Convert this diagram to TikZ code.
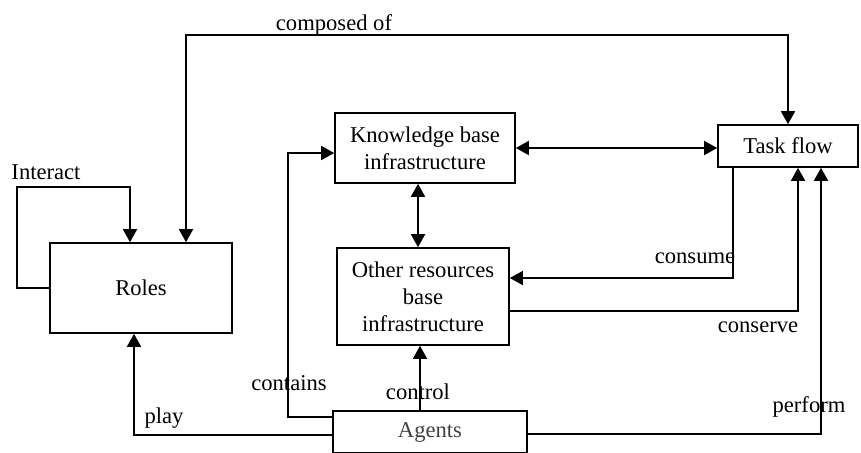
\documentclass[tikz,border=0pt]{standalone}
\usepackage{fontspec}
\setmainfont{Liberation Serif}
\usetikzlibrary{arrows.meta}

\begin{document}
\begin{tikzpicture}[x=0.5pt,y=-0.5pt]

	\tikzset{box/.style={draw, line width=0.8pt, align=center, inner sep=0pt, font=\fontsize{11.3}{13.4}\selectfont}}
	\tikzset{lbl/.style={inner sep=0pt, font=\fontsize{11.3}{13.4}\selectfont}}
	\tikzset{link/.style={line width=0.8pt, -{Triangle[length=6.5pt,width=7pt]}}}
	\tikzset{both/.style={line width=0.8pt, {Triangle[length=6.5pt,width=7pt]}-{Triangle[length=6.5pt,width=7pt]}}}

	\clip (0,0) rectangle (861,452);
	\useasboundingbox (0,0) rectangle (861,452);

	\node[box, minimum width=91pt, minimum height=45pt] (roles) at (141,288) {Roles};
	\node[box, minimum width=90pt, minimum height=35pt] (kb) at (425,148) {Knowledge base\\infrastructure};
	\node[box, minimum width=70pt, minimum height=21pt] (task) at (788,146) {Task flow};
	\node[box, minimum width=86pt, minimum height=48.5pt] (other) at (423,296.5) {Other resources\\base\\infrastructure};
	\node[box, minimum width=97pt, minimum height=21pt, text=black!75] (agents) at (430,432) {Agents};

	\coordinate (cmp) at (186,35);
	\coordinate (ia) at (17,187);
	\coordinate (ib) at (130,187);
	\coordinate (ct) at (288,153);

	% roles and task flow
	\draw[both] (cmp |- roles.north) -- (cmp) -| (task.north);
	\node[lbl] (composed) at (334,25) {composed of};

	\draw[link] (roles.west) -| (ia) -- (ib) -- (ib |- roles.north);
	\node[lbl] (interact) at (46,172) {Interact};

	% knowledge base
	\draw[both] (kb.east) -- (kb.east -| task.west);
	\draw[both] ([xshift=-3.5pt]kb.south) -- ([xshift=-3.5pt]kb.south |- other.north);

	% task flow and resources
	\draw[link] ([xshift=-27.5pt]task.south) |- ([yshift=9.25pt]other.east);
	\node[lbl] (consume) at (695,258) {consume};
	\draw[link] ([yshift=-7.25pt]other.east) -| ([xshift=5pt]task.south);
	\node[lbl] (conserve) at (758,327) {conserve};

	% agents
	\draw[link] ([yshift=7.5pt]agents.west) -| (ct) -- (ct -| kb.west);
	\node[lbl] (contains) at (289,383) {contains};
	\draw[link] ([yshift=-1.5pt]agents.west) -| ([xshift=-3.5pt]roles.south);
	\node[lbl] (play) at (164,418) {play};
	\draw[link] ([xshift=-5pt]agents.north) -- ([xshift=-5pt]agents.north |- other.south);
	\node[lbl] (control) at (418,392) {control};
	\draw[link] ([yshift=-1pt]agents.east) -| ([xshift=16.5pt]task.south);
	\node[lbl] (perform) at (809,407) {perform};

\end{tikzpicture}
\end{document}
